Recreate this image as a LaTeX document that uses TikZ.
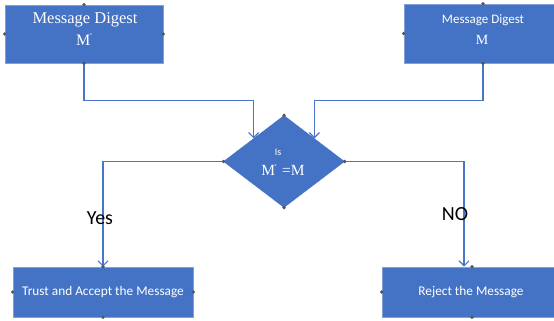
\documentclass[tikz,border=0pt]{standalone}
\usepackage{fontspec}
\setmainfont{Liberation Serif}
\newfontfamily\calibri{Carlito}
\usetikzlibrary{shapes.geometric,arrows.meta,calc}
\definecolor{boxblue}{RGB}{68,114,196}
\definecolor{edgeblue}{RGB}{130,160,215}
\definecolor{lineblue}{RGB}{72,118,200}
\definecolor{gripgray}{RGB}{85,85,85}

\begin{document}
\begin{tikzpicture}[x=1pt,y=-1pt,
  box/.style={rectangle, draw=edgeblue, line width=0.6pt, fill=boxblue, inner sep=0},
  decision/.style={diamond, draw=boxblue, fill=boxblue, inner sep=0,
    minimum width=121pt, minimum height=92pt},
  serifw/.style={text=white, inner sep=0, align=center, font=\fontsize{#1}{#1}\selectfont},
  sansw/.style={text=white, inner sep=0, align=center, font=\calibri\fontsize{#1}{#1}\selectfont},
  link/.style={draw=lineblue, line width=1.5pt,
    -{Straight Barb[length=5pt,width=10pt,line width=1.2pt]}},
  tag/.style={text=black, inner sep=0, font=\calibri\fontsize{20}{20}\selectfont}]

\clip (0,0) rectangle (554,321);

% boxes and decision
\node[box, minimum width=158pt, minimum height=58pt] (m1) at (84,34) {};
\node[box, minimum width=158pt, minimum height=59pt] (m2) at (483,33.5) {};
\node[decision] (d) at (284,161.5) {};
\node[box, minimum width=180pt, minimum height=50pt] (t) at (103,292) {};
\node[box, minimum width=180pt, minimum height=50pt] (r) at (472,292) {};

% box texts
\node[serifw=16.5] (m1a) at (85,20) {Message Digest};
\node[serifw=16] (m1b) at (84,40) {M\raisebox{6pt}{\fontsize{9}{9}\selectfont\textquotesingle}};
\node[sansw=13] (m2a) at (483,20) {Message Digest};
\node[serifw=14] (m2b) at (482,40) {M};
\node[sansw=10] (d1) at (278,152) {Is};
\node[serifw=15.5] (d2) at (283,170) {M\raisebox{5pt}{\fontsize{9}{9}\selectfont\textquotesingle}\,\,=M};
\node[sansw=13.3] (ta) at (103,292) {Trust and Accept the Message};
\node[sansw=13.3] (ra) at (471,292) {Reject the Message};

% connectors
\draw[link] (m1.south) -- ++(0,37) -| ($(d.north)!0.5!(d.west)$);
\draw[link] (m2.south) -- ++(0,37) -| ($(d.north)!0.5!(d.east)$);
\draw[link] (d.west) -| (t.north);
\draw[link] (d.east) -| ([xshift=-8pt]r.north);

% branch labels
\node[tag] (yes) at (100,218) {Yes};
\node[tag] (no) at (455,214) {NO};

% selection grips
\foreach \n in {m1.north,m1.south,m1.east,m1.west,
                m2.north,m2.south,m2.west,
                d.north,d.south,d.east,d.west,
                t.north,t.south,t.east,t.west,
                r.north,r.south,r.west}
  \fill[gripgray] (\n) circle (1.8pt);
\end{tikzpicture}
\end{document}
